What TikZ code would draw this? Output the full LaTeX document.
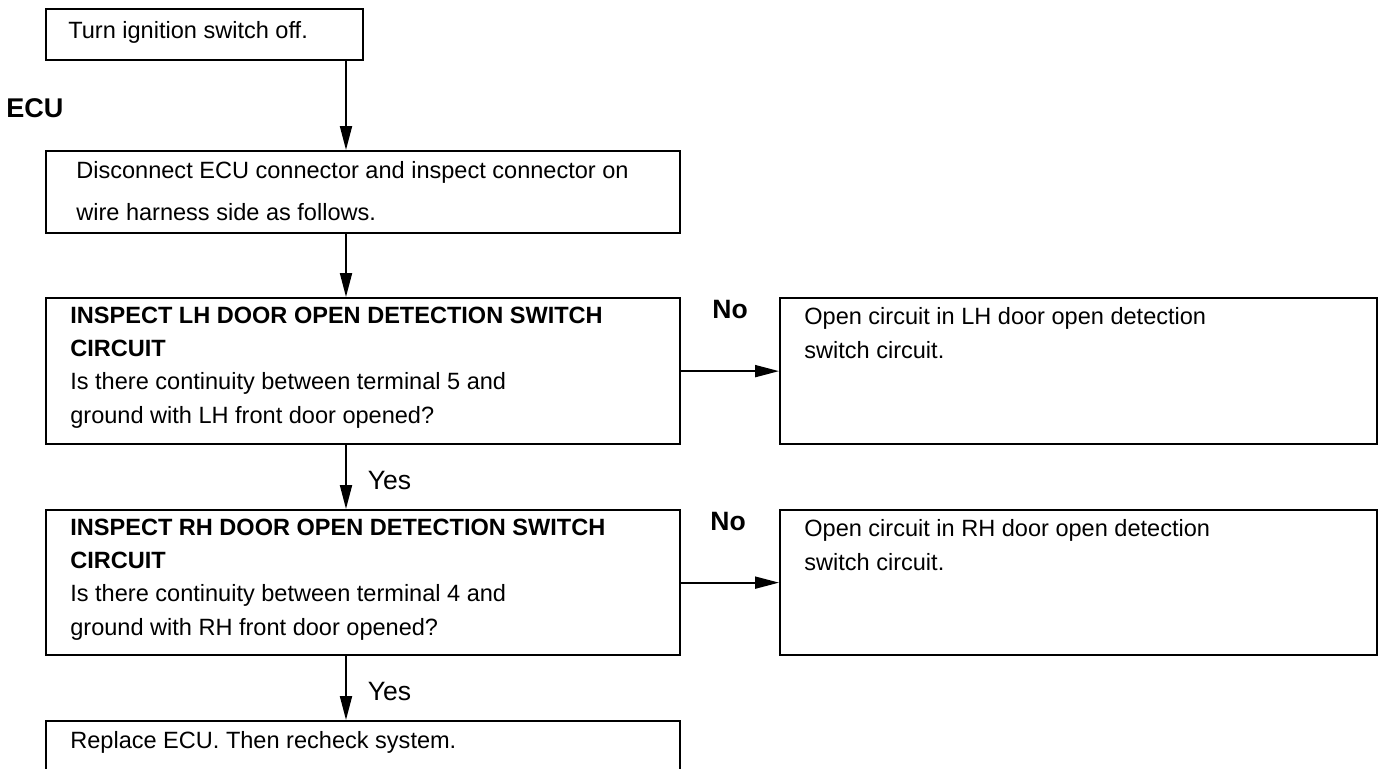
\documentclass[tikz,border=0pt]{standalone}
\usepackage{fontspec}
\setmainfont{Liberation Sans}
\usetikzlibrary{arrows.meta}

\begin{document}
\begin{tikzpicture}[x=0.02cm,y=-0.02cm,
        box/.style={draw,line width=1.3pt,rectangle,inner sep=0pt,anchor=north west},
        txt/.style={anchor=base west,inner sep=0pt,align=left,font=\fontsize{13.4pt}{18.8pt}\selectfont},
        lbl/.style={anchor=base west,inner sep=0pt,font=\fontsize{15.1pt}{18pt}\selectfont},
        flow/.style={line width=1.1pt,-{Triangle[length=0.48cm,width=0.24cm]}}]
        \clip (0,0) rectangle (1383,768);
        % boxes
        \node[box,minimum width=6.34cm,minimum height=1.02cm] (off) at (45,8) {};
        \node[box,minimum width=12.68cm,minimum height=1.64cm] (discon) at (45,150) {};
        \node[box,minimum width=12.68cm,minimum height=2.92cm] (lhchk) at (45,297) {};
        \node[box,minimum width=12.68cm,minimum height=2.90cm] (rhchk) at (45,509) {};
        \node[box,minimum width=12.68cm,minimum height=2.00cm] (repl) at (45,720) {};
        \node[box,minimum width=11.94cm,minimum height=2.92cm] (lhopen) at (779,297) {};
        \node[box,minimum width=11.94cm,minimum height=2.90cm] (rhopen) at (779,509) {};
        % texts (base = last line)
        \node[txt] (offtxt) at (68,38) {Turn ignition switch off.};
        \node[txt,font=\fontsize{13.4pt}{23.9pt}\selectfont] (discontxt) at (76,220) {Disconnect ECU connector and inspect connector on\\wire harness side as follows.};
        \node[txt] (lhchktxt) at (70,423) {\textbf{INSPECT LH DOOR OPEN DETECTION SWITCH}\\\textbf{CIRCUIT}\\Is there continuity between terminal 5 and\\ground with LH front door opened?};
        \node[txt] (rhchktxt) at (70,635) {\textbf{INSPECT RH DOOR OPEN DETECTION SWITCH}\\\textbf{CIRCUIT}\\Is there continuity between terminal 4 and\\ground with RH front door opened?};
        \node[txt] (repltxt) at (70,748) {Replace ECU. Then recheck system.};
        \node[txt] (lhopentxt) at (804,358) {Open circuit in LH door open detection\\switch circuit.};
        \node[txt] (rhopentxt) at (804,570) {Open circuit in RH door open detection\\switch circuit.};
        \node[lbl,font=\bfseries\fontsize{15.4pt}{18pt}\selectfont] (ecu) at (6,117) {ECU};
        % arrows
        \coordinate (trunk) at (346,0);
        \draw[flow] (off.south -| trunk) -- (discon.north -| trunk);
        \draw[flow] (discon.south -| trunk) -- (lhchk.north -| trunk);
        \draw[flow] (lhchk.south -| trunk) -- node[lbl,pos=0.7,anchor=base west,xshift=0.42cm] (yes1) {Yes} (rhchk.north -| trunk);
        \draw[flow] (rhchk.south -| trunk) -- node[lbl,pos=0.7,anchor=base west,xshift=0.42cm] (yes2) {Yes} (repl.north -| trunk);
        \draw[flow] (lhchk.east) -- (lhopen.west);
        \draw[flow] (rhchk.east) -- (rhopen.west);
        \node[lbl,font=\bfseries\fontsize{15.1pt}{18pt}\selectfont] (no1) at (712,318) {No};
        \node[lbl,font=\bfseries\fontsize{15.1pt}{18pt}\selectfont] (no2) at (710,530) {No};
    \end{tikzpicture}
\end{document}
